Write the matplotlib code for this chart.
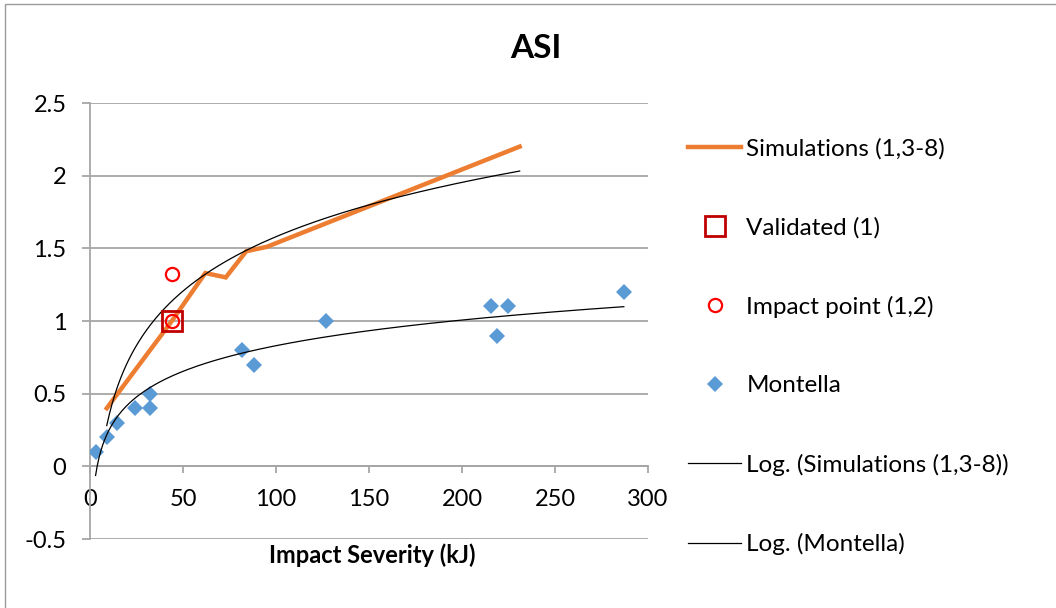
import numpy as np
import matplotlib
matplotlib.use("Agg")
import matplotlib.pyplot as plt
from matplotlib.patches import Rectangle

plt.rcParams['font.family'] = ['Lato', 'DejaVu Sans']

# Simulations (1,3-8)
sim_x = [9, 44, 62, 73, 84, 95, 231]
sim_y = [0.40, 1.00, 1.33, 1.30, 1.48, 1.51, 2.20]

# Validated (1)
val_x = [44]
val_y = [1.00]

# Impact point (1,2)
imp_x = [44, 44]
imp_y = [1.00, 1.32]

# Montella
mon_x = [3, 9, 14.7, 24, 32, 32, 81.5, 88, 127, 215.5, 224.5, 219, 287]
mon_y = [0.10, 0.20, 0.30, 0.40, 0.50, 0.40, 0.80, 0.70, 1.00, 1.10, 1.10, 0.90, 1.20]

xticks = [0, 50, 100, 150, 200, 250, 300]
yticks = [-0.5, 0, 0.5, 1, 1.5, 2, 2.5]

W, H = 1056, 608
fig = plt.figure(figsize=(W / 100, H / 100), dpi=100)

# chart area border (only left/top visible in the crop)
fig.add_artist(Rectangle((5 / W, -0.01), 1.1, 1 - 4 / H + 0.01, transform=fig.transFigure,
                         fill=False, edgecolor='#9a9a9a', linewidth=1.0))

ax = fig.add_axes([90 / W, 1 - 539 / H, (648 - 90) / W, (539 - 103) / H])
ax.set_xlim(0, 300)
ax.set_ylim(-0.5, 2.5)

grey = '#a6a6a6'
for s in ['top', 'right']:
    ax.spines[s].set_visible(False)
ax.spines['bottom'].set_position(('data', 0))
ax.spines['bottom'].set_color(grey)
ax.spines['left'].set_color(grey)
ax.spines['bottom'].set_linewidth(1.3)
ax.spines['left'].set_linewidth(1.3)

ax.set_xticks(xticks)
ax.set_yticks(yticks)
ax.set_xticklabels([str(v) for v in xticks])
ax.set_yticklabels([f'{v:g}' for v in yticks])
ax.tick_params(axis='x', direction='out', length=5, width=1.3, color=grey, pad=11, labelsize=17)
ax.tick_params(axis='y', direction='out', length=6, width=1.3, color=grey, pad=11, labelsize=17)
ax.yaxis.grid(True, color=grey, linewidth=1.3)
ax.set_axisbelow(True)

# log trendlines (Excel style: y = a*ln(x) + b)
a1, b1 = np.polyfit(np.log(sim_x), sim_y, 1)
xs1 = np.linspace(min(sim_x), max(sim_x), 300)
a2, b2 = np.polyfit(np.log(mon_x), mon_y, 1)
xs2 = np.linspace(min(mon_x), max(mon_x), 300)

ax.plot(sim_x, sim_y, color='#ed7d31', linewidth=3.2, solid_joinstyle='miter',
        label='Simulations (1,3-8)', zorder=3)
ax.plot(val_x, val_y, linestyle='none', marker='s', markersize=14.5, markerfacecolor='none',
        markeredgecolor='#c00000', markeredgewidth=2, label='Validated (1)', zorder=5)
ax.plot(imp_x, imp_y, linestyle='none', marker='o', markersize=9.5, markerfacecolor='none',
        markeredgecolor='#ff0000', markeredgewidth=1.6, label='Impact point (1,2)', zorder=6)
ax.plot(mon_x, mon_y, linestyle='none', marker='D', markersize=8.5, color='#5b9bd5',
        markeredgewidth=0, label='Montella', zorder=4)
ax.plot(xs1, a1 * np.log(xs1) + b1, color='black', linewidth=0.9,
        label='Log. (Simulations (1,3-8))', zorder=4)
ax.plot(xs2, a2 * np.log(xs2) + b2, color='black', linewidth=0.9,
        label='Log. (Montella)', zorder=4)

fig.text(536 / W, 1 - 48 / H, 'ASI', fontsize=24, fontweight='bold', ha='center', va='center')
fig.text(372 / W, 1 - 555 / H, 'Impact Severity (kJ)', fontsize=17, fontweight='bold',
         ha='center', va='center')

leg = fig.legend(loc='upper left', bbox_to_anchor=(688 / W, 1 - 138 / H), frameon=False,
                 fontsize=17.5, handlelength=2.2, handletextpad=0.2, labelspacing=2.36,
                 borderaxespad=0, borderpad=0)

fig.savefig('out.png', dpi=100, facecolor='white')
